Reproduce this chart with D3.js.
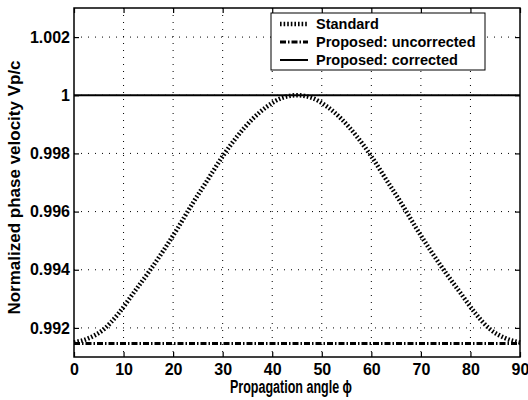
<!DOCTYPE html>
<html>
<head>
<meta charset="utf-8">
<script src="https://cdn.jsdelivr.net/npm/d3@7"></script>
<style>
  body { margin: 0; background: #fff; }
  text { font-family: "Liberation Sans", Arial, sans-serif; font-weight: bold; fill: #000; }
</style>
</head>
<body>
<div id="chart"></div>
<script>
// angles in degrees
const angles = [0, 3, 6, 9, 12, 15, 18, 21, 24, 27, 30, 33, 36, 39, 42, 45,
                48, 51, 54, 57, 60, 63, 66, 69, 72, 75, 78, 81, 84, 87, 90];
const standardVals = [0.99150, 0.99165, 0.99195, 0.99250, 0.99320, 0.99390, 0.99465, 0.99545,
                      0.99630, 0.99710, 0.99790, 0.99860, 0.99918, 0.99962, 0.99991, 1.00000,
                      0.99991, 0.99962, 0.99918, 0.99860, 0.99790, 0.99710, 0.99630, 0.99545,
                      0.99465, 0.99390, 0.99320, 0.99250, 0.99195, 0.99165, 0.99150];

const flatAngles = [0, 10, 20, 30, 40, 50, 60, 70, 80, 90];
const uncorrectedVals = [0.99146, 0.99146, 0.99146, 0.99146, 0.99146, 0.99146, 0.99146, 0.99146, 0.99146, 0.99146];
const correctedVals = [1, 1, 1, 1, 1, 1, 1, 1, 1, 1];

const xTicks = [0, 10, 20, 30, 40, 50, 60, 70, 80, 90];
const yTicks = [0.992, 0.994, 0.996, 0.998, 1, 1.002];
const yTickLabels = ['0.992', '0.994', '0.996', '0.998', '1', '1.002'];

const legendLabels = ['Standard', 'Proposed: uncorrected', 'Proposed: corrected'];

const svg = d3.select('#chart').append('svg').attr('width', 528).attr('height', 400);

const margin = {top: 8, right: 8, bottom: 43, left: 74},
      width = +svg.attr('width') - margin.left - margin.right,
      height = +svg.attr('height') - margin.top - margin.bottom;

const x = d3.scaleLinear().domain([0, 90]).range([0, width]);
const y = d3.scaleLinear().domain([0.991, 1.003]).range([height, 0]);

const g = svg.append('g')
    .attr('transform', `translate(${margin.left},${margin.top})`);

// dotted grid
g.append('g').selectAll('line').data(xTicks.slice(1, -1)).join('line')
    .attr('x1', d => x(d)).attr('x2', d => x(d))
    .attr('y1', 0).attr('y2', height)
    .attr('stroke', '#000').attr('stroke-width', 1).attr('stroke-dasharray', '1,6');
g.append('g').selectAll('line').data(yTicks).join('line')
    .attr('x1', 0).attr('x2', width)
    .attr('y1', d => y(d)).attr('y2', d => y(d))
    .attr('stroke', '#000').attr('stroke-width', 1).attr('stroke-dasharray', '1,6');

// axes
g.append('g')
    .attr('transform', `translate(0,${height})`)
    .call(d3.axisBottom(x).tickValues(xTicks).tickSizeInner(-5).tickSizeOuter(0).tickPadding(7));
g.append('g')
    .call(d3.axisLeft(y).tickValues(yTicks).tickFormat((d, i) => yTickLabels[i])
        .tickSizeInner(-5).tickSizeOuter(0).tickPadding(4));
g.append('g')
    .call(d3.axisTop(x).tickValues(xTicks).tickSizeInner(-5).tickSizeOuter(0).tickFormat(''));
g.append('g')
    .attr('transform', `translate(${width},0)`)
    .call(d3.axisRight(y).tickValues(yTicks).tickSizeInner(-5).tickSizeOuter(0).tickFormat(''));

g.selectAll('.domain').remove();
g.selectAll('.tick line').attr('stroke', '#000').attr('stroke-width', 1.2);
g.selectAll('.tick text').attr('font-size', 16)
    .attr('font-family', '"Liberation Sans", Arial, sans-serif').attr('font-weight', 'bold');

// series
const styles = [
    {width: 4.5, dash: '1.6,2'},
    {width: 3, dash: '6,2,1.5,2'},
    {width: 2, dash: null}
];

const line = d3.line()
    .x(d => x(d[0]))
    .y(d => y(d[1]))
    .curve(d3.curveMonotoneX);

const series = [
    d3.zip(angles, standardVals),
    d3.zip(flatAngles, uncorrectedVals),
    d3.zip(flatAngles, correctedVals)
];

series.forEach((data, i) => {
    g.append('path')
        .datum(data)
        .attr('fill', 'none')
        .attr('stroke', '#000')
        .attr('stroke-width', styles[i].width)
        .attr('stroke-dasharray', styles[i].dash)
        .attr('d', line);
});

// box
g.append('rect')
    .attr('width', width).attr('height', height)
    .attr('fill', 'none').attr('stroke', '#000').attr('stroke-width', 1.5);

// titles
svg.append('text')
    .attr('x', margin.left + width / 2 - 6)
    .attr('y', 393)
    .attr('text-anchor', 'middle')
    .attr('font-size', 18)
    .attr('textLength', 122)
    .attr('lengthAdjust', 'spacingAndGlyphs')
    .text('Propagation angle \u03d5');

svg.append('text')
    .attr('transform', `translate(20,${margin.top + height / 2 + 5}) rotate(-90)`)
    .attr('text-anchor', 'middle')
    .attr('font-size', 17)
    .text('Normalized phase velocity Vp/c');

// legend
const legend = svg.append('g').attr('transform', 'translate(271,13)');
legend.append('rect')
    .attr('width', 214).attr('height', 57)
    .attr('fill', '#fff').attr('stroke', '#000').attr('stroke-width', 1);

legendLabels.forEach((label, i) => {
    const ly = 11 + i * 18;
    legend.append('line')
        .attr('x1', 9).attr('x2', 37)
        .attr('y1', ly).attr('y2', ly)
        .attr('stroke', '#000')
        .attr('stroke-width', styles[i].width)
        .attr('stroke-dasharray', styles[i].dash);
    legend.append('text')
        .attr('x', 45).attr('y', ly + 5)
        .attr('font-size', 14.5)
        .text(label);
});
</script>
</body>
</html>
